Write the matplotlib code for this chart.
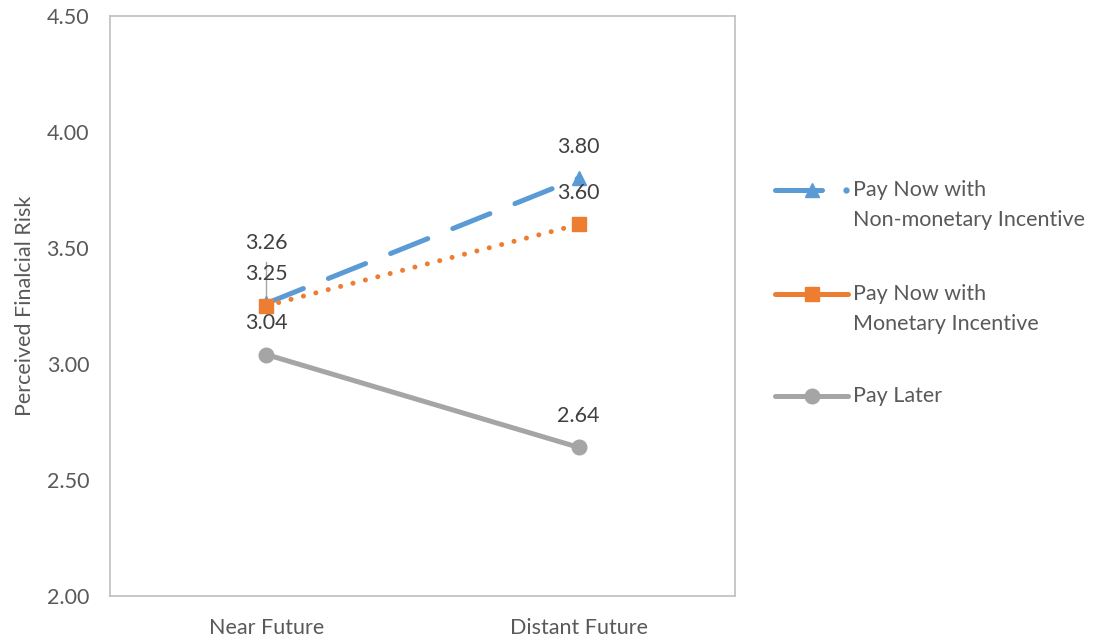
import matplotlib
matplotlib.use("Agg")
import matplotlib.pyplot as plt
from matplotlib.lines import Line2D

plt.rcParams['font.family'] = ['Lato', 'DejaVu Sans']

categories = ["Near Future", "Distant Future"]
series_names = [["Pay Now with", "Non-monetary Incentive"],
                ["Pay Now with", "Monetary Incentive"],
                ["Pay Later"]]
nonmonetary = [3.26, 3.80]
monetary = [3.25, 3.60]
pay_later = [3.04, 2.64]
y_ticks = [2.00, 2.50, 3.00, 3.50, 4.00, 4.50]

text_color = "#595959"
label_color = "#404040"
blue, orange, gray = "#5B9BD5", "#ED7D31", "#A5A5A5"
FS = 15.5

W, H = 1099, 641
fig = plt.figure(figsize=(W / 100, H / 100), dpi=100)
ax = fig.add_axes([110 / W, 1 - 596 / H, (735 - 110) / W, (596 - 15.5) / H])

x = list(range(len(categories)))

ax.plot(x, nonmonetary, color=blue, lw=3.6, dashes=(8, 5.4), dash_capstyle='round',
        marker='^', ms=10.5, mec=blue, mfc=blue, zorder=3)
ax.plot(x, monetary, color=orange, lw=3.6, linestyle=(0, (0.01, 2.55)), dash_capstyle='round',
        marker='s', ms=10.5, mec=orange, mfc=orange, zorder=4)
ax.plot(x, pay_later, color=gray, lw=3.6, solid_capstyle='round',
        marker='o', ms=10.5, mec=gray, mfc=gray, zorder=3)

ax.set_xlim(-0.5, 1.5)
ax.set_ylim(2.0, 4.5)
ax.set_xticks(x)
ax.set_xticklabels(categories)
ax.set_yticks(y_ticks)
ax.set_yticklabels([f"{v:.2f}" for v in y_ticks])
ax.tick_params(length=0, labelsize=FS, colors=text_color)
ax.tick_params(axis='y', pad=15)
ax.tick_params(axis='x', pad=16)
for s in ax.spines.values():
    s.set_color("#BFBFBF")
    s.set_linewidth(1.2)

ax.set_ylabel("Perceived Finalcial Risk", fontsize=FS, color=text_color, labelpad=8)

# value labels, placed above each point
lab_kw = dict(ha='center', va='center', fontsize=FS, color=label_color)
off = 0.135
for xi, v in zip(x, monetary):
    ax.text(xi, v + off, f"{v:.2f}", **lab_kw)
for xi, v in zip(x, pay_later):
    ax.text(xi, v + off, f"{v:.2f}", **lab_kw)
# Non-monetary: near label lifted with a leader line, far label above
ax.text(x[0], nonmonetary[0] + 0.26, f"{nonmonetary[0]:.2f}", **lab_kw)
ax.plot([x[0], x[0]], [nonmonetary[0], nonmonetary[0] + 0.18], color="#A6A6A6", lw=1, zorder=2)
ax.text(x[1], nonmonetary[1] + off, f"{nonmonetary[1]:.2f}", **lab_kw)

# legend: handle lines with markers, labels aligned to their first line
def fx(px):
    return px / W

def fy(py):
    return 1 - py / H

rows = [190, 294, 396]
line_gap = 30
handle_x0, handle_x1, mark_x, text_x = 775, 848, 812, 853

# blue handle: long dash with the triangle, then a dot
fig.add_artist(Line2D([fx(handle_x0), fx(822)], [fy(rows[0])] * 2, color=blue, lw=3.6,
                      solid_capstyle='round'))
fig.add_artist(Line2D([fx(mark_x)], [fy(rows[0])], color=blue, marker='^', ms=10.5, lw=0))
fig.add_artist(Line2D([fx(846)], [fy(rows[0])], color=blue, marker='o', ms=3.5, lw=0))
# orange and gray handles
fig.add_artist(Line2D([fx(handle_x0), fx(handle_x1)], [fy(rows[1])] * 2, color=orange, lw=3.6,
                      solid_capstyle='round'))
fig.add_artist(Line2D([fx(mark_x)], [fy(rows[1])], color=orange, marker='s', ms=10.5, lw=0))
fig.add_artist(Line2D([fx(handle_x0), fx(handle_x1)], [fy(rows[2])] * 2, color=gray, lw=3.6,
                      solid_capstyle='round'))
fig.add_artist(Line2D([fx(mark_x)], [fy(rows[2])], color=gray, marker='o', ms=10.5, lw=0))

for row, lines in zip(rows, series_names):
    for i, t in enumerate(lines):
        fig.text(fx(text_x), fy(row + i * line_gap), t, ha='left', va='center',
                 fontsize=FS, color=text_color)

fig.savefig("out.png", dpi=100)
